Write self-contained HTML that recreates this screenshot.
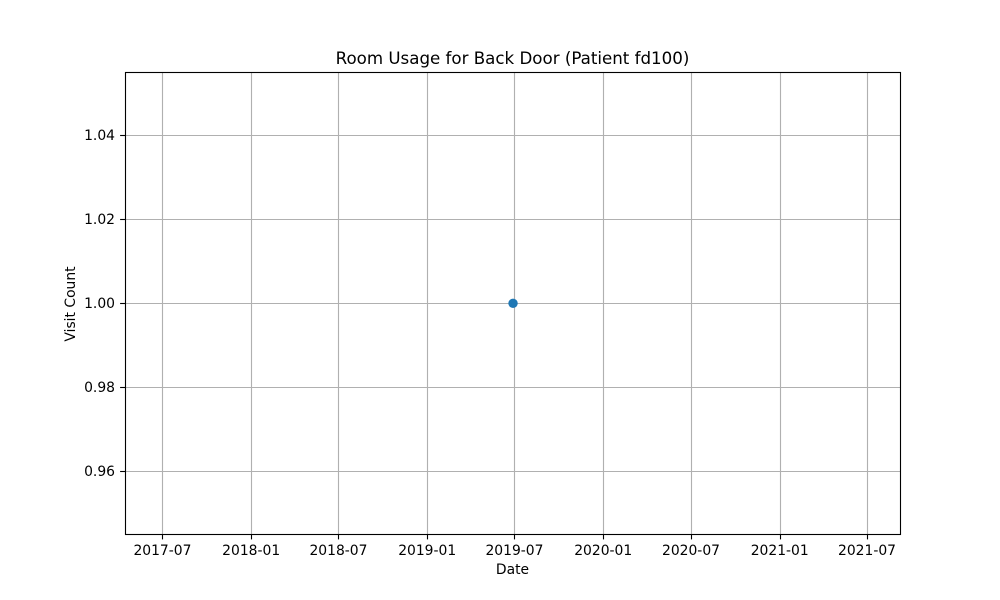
<!DOCTYPE html>
<html lang="en">
<head>
<meta charset="utf-8">
<title>Room Usage for Back Door (Patient fd100)</title>
<style>
  html, body { margin: 0; padding: 0; background: #fff; }
  svg { display: block; }
  text { font-family: "DejaVu Sans", "Liberation Sans", sans-serif; fill: #000; }
</style>
</head>
<body>
<svg id="chart" xmlns="http://www.w3.org/2000/svg" width="1000" height="600" viewBox="0 0 1000 600">
  <rect x="0" y="0" width="1000" height="600" fill="#ffffff"></rect>
  <rect x="125" y="72" width="775" height="462" fill="#ffffff"></rect>
  <g id="grid"></g>
  <g id="series"></g>
  <g id="frame">
    <rect x="125.5" y="72.5" width="775" height="462" fill="none" stroke="#000" stroke-width="1.11"></rect>
  </g>
  <g id="ticks"></g>
  <text x="512.5" y="64" text-anchor="middle" font-size="16.67">Room Usage for Back Door (Patient fd100)</text>
  <text x="512.5" y="574" text-anchor="middle" font-size="13.89">Date</text>
  <text transform="translate(75,304) rotate(-90)" text-anchor="middle" font-size="13.89">Visit Count</text>
</svg>
<script>
const dates = ['2019-06-28'];
const visitCounts = [1];
const xTickDates = ['2017-07-01', '2018-01-01', '2018-07-01', '2019-01-01', '2019-07-01', '2020-01-01', '2020-07-01', '2021-01-01', '2021-07-01'];
const xTickLabels = ['2017-07', '2018-01', '2018-07', '2019-01', '2019-07', '2020-01', '2020-07', '2021-01', '2021-07'];
const yTickValues = [0.96, 0.98, 1.00, 1.02, 1.04];
const yTickLabels = ['0.96', '0.98', '1.00', '1.02', '1.04'];

const NS = 'http://www.w3.org/2000/svg';
const DAY = 86400000;
const plot = { left: 125.3, right: 900.3, top: 72, bottom: 534 };
const xDomainStart = Date.UTC(2017, 3, 15);
const xDomainEnd = xDomainStart + 1607 * DAY;
const yDomainMin = 0.945;
const yDomainMax = 1.055;

function xScale(dateString) {
  const t = Date.parse(dateString + 'T00:00:00Z');
  return plot.left + (t - xDomainStart) / (xDomainEnd - xDomainStart) * (plot.right - plot.left);
}
function yScale(value) {
  return plot.bottom - (value - yDomainMin) / (yDomainMax - yDomainMin) * (plot.bottom - plot.top);
}
function snap(v) {
  return Math.round(v) + 0.5;
}
function makeLine(x1, y1, x2, y2, stroke) {
  const line = document.createElementNS(NS, 'line');
  line.setAttribute('x1', x1);
  line.setAttribute('y1', y1);
  line.setAttribute('x2', x2);
  line.setAttribute('y2', y2);
  line.setAttribute('stroke', stroke);
  line.setAttribute('stroke-width', '1.11');
  return line;
}
function makeLabel(x, y, anchor, content) {
  const label = document.createElementNS(NS, 'text');
  label.setAttribute('x', x);
  label.setAttribute('y', y);
  label.setAttribute('text-anchor', anchor);
  label.setAttribute('font-size', '13.89');
  label.textContent = content;
  return label;
}

const grid = document.getElementById('grid');
const ticks = document.getElementById('ticks');
const series = document.getElementById('series');

xTickDates.forEach(function (d, i) {
  const x = snap(xScale(d));
  const gridLine = makeLine(x, 72, x, 534, '#b0b0b0');
  
  
  grid.appendChild(gridLine);
  const tick = makeLine(x, 534, x, 539.4, '#000');
  
  
  ticks.appendChild(tick);
  const label = makeLabel(xScale(d), 555, 'middle', xTickLabels[i]);
  
  
  ticks.appendChild(label);
});

yTickValues.forEach(function (v, i) {
  const y = snap(yScale(v));
  const gridLine = makeLine(125, y, 900, y, '#b0b0b0');
  
  
  grid.appendChild(gridLine);
  const tick = makeLine(120.1, y, 125, y, '#000');
  
  
  ticks.appendChild(tick);
  const label = makeLabel(115, yScale(v) + 5, 'end', yTickLabels[i]);
  
  
  ticks.appendChild(label);
});

dates.forEach(function (d, i) {
  const point = document.createElementNS(NS, 'circle');
  point.setAttribute('cx', xScale(d));
  point.setAttribute('cy', yScale(visitCounts[i]) + 0.3);
  point.setAttribute('r', '4.7');
  point.setAttribute('fill', '#1f77b4');
  
  
  series.appendChild(point);
});
</script>
</body>
</html>
